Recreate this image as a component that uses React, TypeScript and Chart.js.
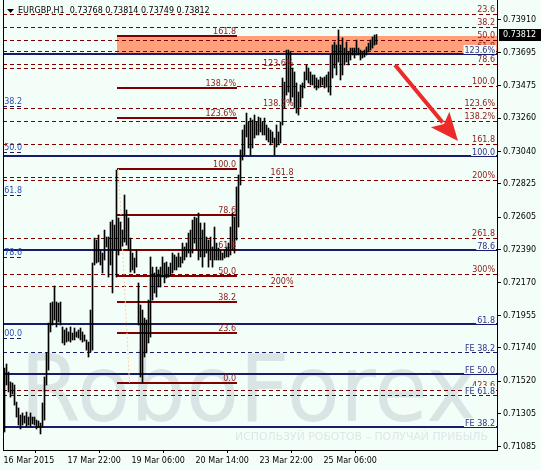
import React, { useEffect, useRef } from 'react';
import { Chart, registerables } from 'chart.js';

Chart.register(...registerables);

// ---------- data ----------
const SYMBOL = 'EURGBP,H1';
const LAST_OHLC = [0.73768, 0.73814, 0.73749, 0.73812];

const BAR_HIGHS = [
  0.71607, 0.71634, 0.71581, 0.71515, 0.71508, 0.71495, 0.71382, 0.71343, 0.71296, 0.71310,
  0.71290, 0.71316, 0.71283, 0.71310, 0.71283, 0.71283, 0.71263, 0.71257, 0.71243, 0.71376,
  0.71548, 0.71707, 0.71905, 0.72037, 0.72044, 0.72150, 0.72044, 0.72037, 0.72044, 0.71879,
  0.71859, 0.71872, 0.71846, 0.71879, 0.71839, 0.71872, 0.71846, 0.71859, 0.71872, 0.71846,
  0.71826, 0.71793, 0.71779, 0.71991, 0.72302, 0.72467, 0.72454, 0.72487, 0.72388, 0.72368,
  0.72520, 0.72474, 0.72474, 0.72573, 0.72586, 0.72553, 0.72917, 0.72600, 0.72573, 0.72520,
  0.72752, 0.72653, 0.72600, 0.72467, 0.72368, 0.72335, 0.72388, 0.72170, 0.72024, 0.71991,
  0.71938, 0.71925, 0.72057, 0.72342, 0.72275, 0.72236, 0.72275, 0.72256, 0.72275, 0.72342,
  0.72302, 0.72309, 0.72275, 0.72302, 0.72368, 0.72355, 0.72342, 0.72368, 0.72342, 0.72434,
  0.72408, 0.72434, 0.72500, 0.72520, 0.72586, 0.72606, 0.72600, 0.72633, 0.72567, 0.72520,
  0.72567, 0.72474, 0.72454, 0.72474, 0.72408, 0.72540, 0.72434, 0.72401, 0.72388, 0.72368,
  0.72388, 0.72408, 0.72434, 0.72540, 0.72633, 0.72606, 0.72805, 0.72884, 0.73050, 0.73182,
  0.73215, 0.73294, 0.73235, 0.73261, 0.73248, 0.73281, 0.73235, 0.73268, 0.73261, 0.73235,
  0.73261, 0.73215, 0.73195, 0.73182, 0.73169, 0.73129, 0.73215, 0.73169, 0.73235, 0.73526,
  0.73499, 0.73711, 0.73711, 0.73698, 0.73592, 0.73566, 0.73493, 0.73433, 0.73480, 0.73493,
  0.73566, 0.73612, 0.73592, 0.73566, 0.73546, 0.73546, 0.73526, 0.73513, 0.73533, 0.73526,
  0.73533, 0.73546, 0.73566, 0.73678, 0.73744, 0.73764, 0.73744, 0.73844, 0.73744, 0.73791,
  0.73724, 0.73764, 0.73698, 0.73724, 0.73724, 0.73724, 0.73777, 0.73724, 0.73711, 0.73698,
  0.73711, 0.73731, 0.73757, 0.73777, 0.73797, 0.73810, 0.73814,
];

const BAR_LOWS = [
  0.71184, 0.71495, 0.71449, 0.71415, 0.71435, 0.71362, 0.71283, 0.71230, 0.71204, 0.71230,
  0.71243, 0.71217, 0.71230, 0.71217, 0.71237, 0.71230, 0.71204, 0.71217, 0.71171, 0.71217,
  0.71263, 0.71495, 0.71594, 0.71846, 0.71892, 0.71925, 0.71879, 0.71912, 0.71892, 0.71773,
  0.71760, 0.71779, 0.71786, 0.71779, 0.71793, 0.71793, 0.71812, 0.71806, 0.71793, 0.71779,
  0.71786, 0.71726, 0.71680, 0.71713, 0.71726, 0.72289, 0.72302, 0.72309, 0.72289, 0.72236,
  0.72322, 0.72408, 0.72209, 0.72289, 0.72104, 0.72388, 0.72209, 0.72355, 0.72388, 0.72414,
  0.72441, 0.72421, 0.72388, 0.72242, 0.72256, 0.72236, 0.72275, 0.71892, 0.71548, 0.71508,
  0.71680, 0.71707, 0.71773, 0.71812, 0.72057, 0.72104, 0.72077, 0.72143, 0.72143, 0.72209,
  0.72170, 0.72203, 0.72209, 0.72223, 0.72236, 0.72256, 0.72256, 0.72275, 0.72275, 0.72302,
  0.72322, 0.72342, 0.72368, 0.72342, 0.72368, 0.72434, 0.72388, 0.72322, 0.72342, 0.72275,
  0.72342, 0.72368, 0.72275, 0.72322, 0.72275, 0.72322, 0.72322, 0.72322, 0.72322, 0.72322,
  0.72335, 0.72342, 0.72342, 0.72355, 0.72388, 0.72368, 0.72454, 0.72540, 0.72818, 0.72983,
  0.73017, 0.73136, 0.73063, 0.73017, 0.73063, 0.73129, 0.73149, 0.73149, 0.73169, 0.73149,
  0.73149, 0.73116, 0.73103, 0.73083, 0.73096, 0.73017, 0.73069, 0.73083, 0.73096, 0.73215,
  0.73327, 0.73413, 0.73433, 0.73367, 0.73400, 0.73327, 0.73294, 0.73281, 0.73334, 0.73394,
  0.73460, 0.73513, 0.73493, 0.73480, 0.73480, 0.73460, 0.73447, 0.73460, 0.73466, 0.73480,
  0.73460, 0.73466, 0.73433, 0.73413, 0.73526, 0.73592, 0.73546, 0.73632, 0.73513, 0.73546,
  0.73612, 0.73632, 0.73612, 0.73645, 0.73678, 0.73658, 0.73678, 0.73678, 0.73645, 0.73658,
  0.73665, 0.73678, 0.73698, 0.73711, 0.73724, 0.73744, 0.73749,
];

const TIME_LABELS = ['16 Mar 2015', '17 Mar 22:00', '19 Mar 06:00', '20 Mar 14:00', '23 Mar 22:00', '25 Mar 06:00'];
const TIME_LABEL_BARS = [-0.5, 31.5, 63.5, 95.5, 127.5, 159.5];

const PRICE_TICKS = [0.7391, 0.73695, 0.73475, 0.7326, 0.7304, 0.72825, 0.72605, 0.7239, 0.7217, 0.71955, 0.7174, 0.7152, 0.71305, 0.71085];
const PRICE_MIN = 0.71065;
const PRICE_MAX = 0.74042;
const BAR_AXIS_MIN = -0.75;
const BAR_AXIS_MAX = 246.25;

// dashed maroon levels running to the right edge
const RIGHT_FIB_PRICES = [0.73949, 0.73863, 0.73777, 0.73705, 0.73619, 0.73473, 0.73327, 0.73241, 0.73089, 0.72851, 0.72467, 0.72229, 0.71462];
const RIGHT_FIB_LABELS = ['23.6', '38.2', '50.0', '61.8', '78.6', '100.0', '123.6%', '138.2%', '161.8', '200%', '261.8', '300%', '423.6'];
const RIGHT_FIB_START_BAR = [-0.75, -0.75, -0.75, -0.75, -0.75, 116.25, -0.75, -0.75, -0.75, -0.75, -0.75, -0.75, -0.75];

// dashed maroon expansion ending at bar 144
const MID_FIB_PRICES = [0.73592, 0.73327, 0.72871, 0.7215];
const MID_FIB_LABELS = ['123.6%', '138.2%', '161.8', '200%'];
const MID_FIB_END_BAR = 144.5;

// solid maroon fibonacci retracement
const SOLID_FIB_PRICES = [0.73804, 0.7346, 0.73261, 0.72924, 0.7262, 0.72388, 0.72216, 0.72044, 0.71839, 0.71508];
const SOLID_FIB_LABELS = ['161.8', '138.2%', '123.6%', '100.0', '78.6', '61.8', '50.0', '38.2', '23.6', '0.0'];
const SOLID_FIB_BARS = [56.25, 116.25];
const SOLID_FIB_TREND = [[57, 0.72924], [62.5, 0.71508]];

// target zone
const ZONE_PRICES = [0.73685, 0.73804];
const ZONE_START_BAR = 56.25;

// navy levels
const BLUE_SOLID_PRICES = [0.73685, 0.7301, 0.72385, 0.71898, 0.71568, 0.71217];
const BLUE_SOLID_LABELS = ['123.6%', '100.0', '78.6', '61.8', 'FE 50.0', 'FE 38.2'];
const BLUE_DASHED_PRICES = [0.71713, 0.71429];
const BLUE_DASHED_LABELS = ['FE 38.2', 'FE 61.8'];
const LEFT_FIB_PRICES = [0.73341, 0.73036, 0.72752, 0.72342, 0.71806];
const LEFT_FIB_LABELS = ['38.2', '50.0', '61.8', '78.6', '100.0'];
const LEFT_FIB_END_BAR = 8.75;

const ARROW_POINTS = [[195.25, 0.73612], [226.75, 0.73109]];

// ---------- styles ----------
const BG = '#F3FEF8';
const MAROON = '#800000';
const LABEL_RED = '#8B1A1A';
const NAVY = '#1B1B6E';
const LABEL_BLUE = '#33308A';
const FONT = '8px "DejaVu Sans"';

function hline(ctx: CanvasRenderingContext2D, x0: number, x1: number, py: number, color: string, w: number, dash: number[]) {
  ctx.beginPath();
  ctx.strokeStyle = color;
  ctx.lineWidth = w;
  ctx.setLineDash(dash);
  const yy = w % 2 === 1 ? Math.round(py) + 0.5 : Math.round(py);
  ctx.moveTo(x0, yy);
  ctx.lineTo(x1, yy);
  ctx.stroke();
  ctx.setLineDash([]);
}

function label(ctx: CanvasRenderingContext2D, s: string, x: number, y: number, color: string, align: CanvasTextAlign, bg?: string) {
  ctx.font = FONT;
  ctx.textAlign = align;
  ctx.textBaseline = 'alphabetic';
  if (bg) {
    const w = ctx.measureText(s).width;
    const x0 = align === 'right' ? x - w : x;
    ctx.fillStyle = bg;
    ctx.fillRect(x0 - 1, y - 8, w + 2, 9);
  }
  ctx.fillStyle = color;
  ctx.fillText(s, x, y);
}

const overlay = {
  id: 'overlay',
  beforeDraw(chart: any) {
    const { ctx, width, height } = chart;
    ctx.save();
    ctx.fillStyle = BG;
    ctx.fillRect(0, 0, width, height);
    ctx.fillStyle = '#D9E5E5';
    ctx.font = '93px "DejaVu Sans"';
    ctx.textAlign = 'left';
    ctx.textBaseline = 'alphabetic';
    ctx.fillText('RoboForex', 20, 421, 458);
    ctx.font = '11px "DejaVu Sans"';
    ctx.fillStyle = '#DCE7E7';
    ctx.fillText('ИСПОЛЬЗУЙ РОБОТОВ – ПОЛУЧАЙ ПРИБЫЛЬ', 235, 440, 253);
    ctx.restore();
  },
  beforeDatasetsDraw(chart: any) {
    const { ctx, chartArea: ca, scales } = chart;
    const xs = scales.x;
    const ys = scales.y;
    ctx.save();
    ctx.beginPath();
    ctx.rect(ca.left, ca.top, ca.right - ca.left, ca.bottom - ca.top);
    ctx.clip();

    // zone
    const zt = ys.getPixelForValue(ZONE_PRICES[1]);
    const zb = ys.getPixelForValue(ZONE_PRICES[0]);
    ctx.fillStyle = '#FFA07A';
    ctx.fillRect(xs.getPixelForValue(ZONE_START_BAR), Math.round(zt), ca.right - xs.getPixelForValue(ZONE_START_BAR), Math.round(zb) - Math.round(zt));

    // right dashed maroon
    RIGHT_FIB_PRICES.forEach((p, i) => {
      hline(ctx, xs.getPixelForValue(RIGHT_FIB_START_BAR[i]), ca.right, ys.getPixelForValue(p), MAROON, 1, [4, 3]);
    });
    // middle dashed maroon
    MID_FIB_PRICES.forEach((p) => {
      hline(ctx, ca.left, xs.getPixelForValue(MID_FIB_END_BAR), ys.getPixelForValue(p), MAROON, 1, [4, 3]);
    });
    // blue lines
    BLUE_SOLID_PRICES.forEach((p) => hline(ctx, ca.left, ca.right, ys.getPixelForValue(p), NAVY, 2, []));
    BLUE_DASHED_PRICES.forEach((p) => hline(ctx, ca.left, ca.right, ys.getPixelForValue(p), NAVY, 1, [4, 3]));
    LEFT_FIB_PRICES.forEach((p) => hline(ctx, ca.left, xs.getPixelForValue(LEFT_FIB_END_BAR), ys.getPixelForValue(p), NAVY, 1, [4, 3]));

    // solid fib
    const fx0 = xs.getPixelForValue(SOLID_FIB_BARS[0]);
    const fx1 = xs.getPixelForValue(SOLID_FIB_BARS[1]);
    SOLID_FIB_PRICES.forEach((p) => hline(ctx, fx0, fx1, ys.getPixelForValue(p), MAROON, 2, []));
    ctx.beginPath();
    ctx.strokeStyle = '#FFD0A8';
    ctx.lineWidth = 1;
    ctx.setLineDash([2, 2]);
    ctx.moveTo(xs.getPixelForValue(SOLID_FIB_TREND[0][0]), ys.getPixelForValue(SOLID_FIB_TREND[0][1]));
    ctx.lineTo(xs.getPixelForValue(SOLID_FIB_TREND[1][0]), ys.getPixelForValue(SOLID_FIB_TREND[1][1]));
    ctx.stroke();
    ctx.setLineDash([]);
    ctx.restore();
  },
  afterDatasetsDraw(chart: any) {
    const { ctx, chartArea: ca, scales } = chart;
    const xs = scales.x;
    const ys = scales.y;
    ctx.save();
    ctx.beginPath();
    ctx.rect(ca.left, ca.top, ca.right - ca.left, ca.bottom - ca.top);
    ctx.clip();

    const rx = ca.right - 2;
    RIGHT_FIB_PRICES.forEach((p, i) => label(ctx, RIGHT_FIB_LABELS[i], rx, Math.round(ys.getPixelForValue(p)) - 2, LABEL_RED, 'right'));
    const mx = xs.getPixelForValue(MID_FIB_END_BAR);
    MID_FIB_PRICES.forEach((p, i) => label(ctx, MID_FIB_LABELS[i], mx, Math.round(ys.getPixelForValue(p)) - 2, LABEL_RED, 'right'));
    const sx = xs.getPixelForValue(SOLID_FIB_BARS[1]) - 1;
    SOLID_FIB_PRICES.forEach((p, i) => label(ctx, SOLID_FIB_LABELS[i], sx, Math.round(ys.getPixelForValue(p)) - 2, LABEL_RED, 'right'));
    BLUE_SOLID_PRICES.forEach((p, i) => label(ctx, BLUE_SOLID_LABELS[i], rx, Math.round(ys.getPixelForValue(p)) - 1, LABEL_BLUE, 'right', BG));
    BLUE_DASHED_PRICES.forEach((p, i) => label(ctx, BLUE_DASHED_LABELS[i], rx, Math.round(ys.getPixelForValue(p)) - 1, LABEL_BLUE, 'right', BG));
    const lx = xs.getPixelForValue(LEFT_FIB_END_BAR);
    LEFT_FIB_PRICES.forEach((p, i) => label(ctx, LEFT_FIB_LABELS[i], lx, Math.round(ys.getPixelForValue(p)) - 2, '#2F4FB0', 'right'));

    // arrow
    const ax0 = xs.getPixelForValue(ARROW_POINTS[0][0]);
    const ay0 = ys.getPixelForValue(ARROW_POINTS[0][1]);
    const ax1 = xs.getPixelForValue(ARROW_POINTS[1][0]);
    const ay1 = ys.getPixelForValue(ARROW_POINTS[1][1]);
    const dx = ax1 - ax0;
    const dy = ay1 - ay0;
    const len = Math.hypot(dx, dy);
    const ux = dx / len;
    const uy = dy / len;
    const headLen = 28;
    const headW = 12;
    const bx = ax1 - ux * headLen;
    const by = ay1 - uy * headLen;
    ctx.strokeStyle = '#EC2A2A';
    ctx.fillStyle = '#EC2A2A';
    ctx.lineWidth = 4;
    ctx.beginPath();
    ctx.moveTo(ax0, ay0);
    ctx.lineTo(bx + ux * 4, by + uy * 4);
    ctx.stroke();
    ctx.beginPath();
    ctx.moveTo(ax1, ay1);
    ctx.lineTo(bx - uy * headW, by + ux * headW);
    ctx.lineTo(bx + ux * 6, by + uy * 6);
    ctx.lineTo(bx + uy * headW, by - ux * headW);
    ctx.closePath();
    ctx.fill();
    ctx.restore();
  },
  afterDraw(chart: any) {
    const { ctx, chartArea: ca, scales } = chart;
    const ys = scales.y;
    ctx.save();
    // left frame
    ctx.strokeStyle = '#000';
    ctx.lineWidth = 1;
    ctx.beginPath();
    ctx.moveTo(ca.left + 0.5, 0);
    ctx.lineTo(ca.left + 0.5, ca.bottom);
    ctx.stroke();
    // header
    ctx.fillStyle = '#000';
    ctx.beginPath();
    ctx.moveTo(7, 9);
    ctx.lineTo(14, 9);
    ctx.lineTo(10.5, 13);
    ctx.closePath();
    ctx.fill();
    ctx.font = FONT;
    ctx.textAlign = 'left';
    ctx.textBaseline = 'alphabetic';
    ctx.fillText(`${SYMBOL}  ${LAST_OHLC.map((v) => v.toFixed(5)).join(' ')}`, 18, 13);
    // current price box
    const py = Math.round(ys.getPixelForValue(LAST_OHLC[3]));
    ctx.fillStyle = '#000';
    ctx.fillRect(ca.right + 2, py - 6, 44, 12);
    ctx.fillStyle = '#fff';
    ctx.textBaseline = 'middle';
    ctx.fillText(LAST_OHLC[3].toFixed(5), ca.right + 6, py);
    ctx.restore();
  },
};

export default function App() {
  const ref = useRef<HTMLCanvasElement>(null);
  useEffect(() => {
    const canvas = ref.current!;
    const data = BAR_HIGHS.map((h, i) => ({ x: i, y: [BAR_LOWS[i], h] }));
    const chart = new Chart(canvas, {
      type: 'bar',
      data: {
        datasets: [
          {
            data: data as any,
            backgroundColor: '#000',
            borderWidth: 0,
            barThickness: 1,
          },
        ],
      },
      options: {
        animation: false,
        responsive: false,
        maintainAspectRatio: false,
        devicePixelRatio: 1,
        layout: { padding: { left: 3, top: 0, right: 0, bottom: 0 } },
        plugins: { legend: { display: false }, tooltip: { enabled: false }, title: { display: false } },
        scales: {
          x: {
            type: 'linear',
            min: BAR_AXIS_MIN,
            max: BAR_AXIS_MAX,
            offset: false,
            afterBuildTicks: (s: any) => {
              s.ticks = TIME_LABEL_BARS.map((v) => ({ value: v }));
            },
            afterFit: (s: any) => {
              s.height = 20;
              s.paddingLeft = 0;
              s.paddingRight = 0;
            },
            ticks: {
              callback: (_v: any, i: number) => TIME_LABELS[i],
              align: 'start',
              maxRotation: 0,
              minRotation: 0,
              autoSkip: false,
              padding: 3,
              color: '#000',
              font: { family: 'DejaVu Sans', size: 8 },
            },
            grid: { drawOnChartArea: false, drawTicks: true, tickLength: 3, color: '#000' },
            border: { display: true, color: '#000' },
          },
          y: {
            type: 'linear',
            position: 'right',
            min: PRICE_MIN,
            max: PRICE_MAX,
            afterBuildTicks: (s: any) => {
              s.ticks = PRICE_TICKS.map((v) => ({ value: v }));
            },
            afterFit: (s: any) => {
              s.width = 44;
              s.paddingTop = 0;
              s.paddingBottom = 0;
            },
            ticks: {
              callback: (v: any) => Number(v).toFixed(5),
              autoSkip: false,
              padding: 2,
              color: '#000',
              font: { family: 'DejaVu Sans', size: 8 },
            },
            grid: { drawOnChartArea: false, drawTicks: true, tickLength: 4, color: '#000' },
            border: { display: true, color: '#000' },
          },
        },
      } as any,
      plugins: [overlay],
    });
    return () => chart.destroy();
  }, []);
  return (
    <div style={{ position: 'fixed', left: 0, top: 0, width: 541, height: 470, background: BG }}>
      <canvas ref={ref} width={541} height={470} style={{ display: 'block' }} />
    </div>
  );
}
